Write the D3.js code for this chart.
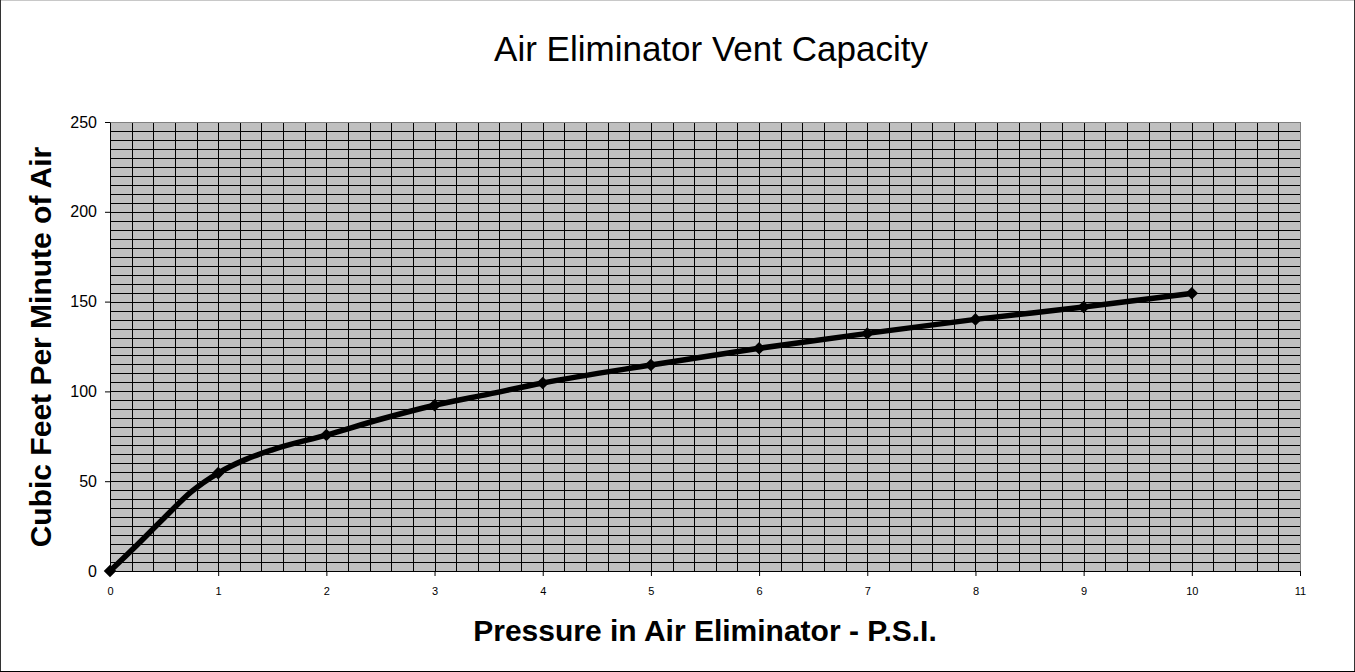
<!DOCTYPE html>
<html>
<head>
<meta charset="utf-8">
<script src="https://cdn.jsdelivr.net/npm/d3@7"></script>
<style>
  html, body { margin: 0; padding: 0; background: #fff; }
  svg { display: block; font-family: "Liberation Sans", Arial, sans-serif; }
</style>
</head>
<body>
<svg id="chart" width="1355" height="672"></svg>
<script>
// ---- data ----
const pressurePsi = [0, 0.25, 0.5, 0.75, 1, 1.25, 1.5, 2, 2.5, 3, 3.5, 4, 5, 6, 7, 8, 9, 10];
const cfmAir      = [0, 14.5, 29.5, 44, 54.5, 62, 67.5, 75.7, 84.5, 92.3, 98.5, 104.7, 114.7, 124, 132.3, 140.1, 147, 154.6];
const markerPsi   = [0, 1, 2, 3, 4, 5, 6, 7, 8, 9, 10];
const markerCfm   = [0, 54.5, 75.7, 92.3, 104.7, 114.7, 124, 132.3, 140.1, 147, 154.6];
const xTicks = [0, 1, 2, 3, 4, 5, 6, 7, 8, 9, 10, 11];
const yTicks = [0, 50, 100, 150, 200, 250];
const titleText = "Air Eliminator Vent Capacity";
const xTitle = "Pressure in Air Eliminator - P.S.I.";
const yTitle = "Cubic Feet Per Minute of Air";

const W = 1355, H = 672;
const plot = { left: 110, right: 1300, top: 122, bottom: 571 };

const svg = d3.select("#chart");

// outer frame
svg.append("line").attr("x1", 0).attr("x2", W).attr("y1", 0.5).attr("y2", 0.5).attr("stroke", "#c8c8c8");
svg.append("line").attr("x1", 0.5).attr("x2", 0.5).attr("y1", 0).attr("y2", H).attr("stroke", "#333");
svg.append("line").attr("x1", W - 0.5).attr("x2", W - 0.5).attr("y1", 0).attr("y2", H).attr("stroke", "#333");
svg.append("line").attr("x1", 0).attr("x2", W).attr("y1", H - 0.5).attr("y2", H - 0.5).attr("stroke", "#000");

const x = d3.scaleLinear().domain([0, 11]).range([plot.left, plot.right]);
const y = d3.scaleLinear().domain([0, 250]).range([plot.bottom, plot.top]);

// plot background
svg.append("rect")
  .attr("x", plot.left).attr("y", plot.top)
  .attr("width", plot.right - plot.left).attr("height", plot.bottom - plot.top)
  .attr("fill", "#c0c0c0");

// grid
const g = svg.append("g").attr("shape-rendering", "crispEdges");
const vGrid = d3.range(1, 55).map(i => i * 0.2);
const hGrid = d3.range(1, 50).map(i => i * 5);
g.selectAll("line.v").data(vGrid).join("line")
  .attr("x1", d => Math.round(x(d)) + 0.5).attr("x2", d => Math.round(x(d)) + 0.5)
  .attr("y1", plot.top).attr("y2", plot.bottom)
  .attr("stroke", "#000").attr("stroke-width", 1);
g.selectAll("line.h").data(hGrid).join("line")
  .attr("y1", d => Math.round(y(d)) + 0.5).attr("y2", d => Math.round(y(d)) + 0.5)
  .attr("x1", plot.left).attr("x2", plot.right)
  .attr("stroke", "#000").attr("stroke-width", 1);

// plot border (top/right gray)
g.append("line").attr("x1", plot.left).attr("x2", plot.right).attr("y1", plot.top + 0.5).attr("y2", plot.top + 0.5).attr("stroke", "#808080");
g.append("line").attr("x1", plot.right + 0.5).attr("x2", plot.right + 0.5).attr("y1", plot.top).attr("y2", plot.bottom).attr("stroke", "#808080");

// axes
const xAxis = d3.axisBottom(x).tickValues(xTicks).tickSize(5).tickPadding(11).tickSizeOuter(0);
const yAxis = d3.axisLeft(y).tickValues(yTicks).tickSize(5).tickPadding(8).tickSizeOuter(0);

const gx = svg.append("g").attr("transform", `translate(0,${plot.bottom})`).call(xAxis);
gx.select(".domain").attr("stroke", "#000");
gx.selectAll(".tick line").attr("stroke", "#000");
gx.selectAll(".tick text").attr("font-size", "11px").attr("fill", "#000")
  .attr("font-family", "Liberation Sans, Arial, sans-serif");

const gy = svg.append("g").attr("transform", `translate(${plot.left},0)`).call(yAxis);
gy.select(".domain").attr("stroke", "#000");
gy.selectAll(".tick line").attr("stroke", "#000");
gy.selectAll(".tick text").attr("font-size", "16px").attr("fill", "#000")
  .attr("font-family", "Liberation Sans, Arial, sans-serif");

// line
const pts = pressurePsi.map((p, i) => [p, cfmAir[i]]);
const line = d3.line().x(d => x(d[0])).y(d => y(d[1])).curve(d3.curveMonotoneX);
svg.append("path").datum(pts)
  .attr("d", line)
  .attr("fill", "none").attr("stroke", "#000").attr("stroke-width", 5.5)
  .attr("stroke-linejoin", "round").attr("stroke-linecap", "round");

// markers
const diamond = d3.symbol().type(d3.symbolDiamond2).size(100);
svg.selectAll("path.mk").data(markerPsi.map((p, i) => [p, markerCfm[i]])).join("path")
  .attr("class", "mk")
  .attr("transform", d => `translate(${x(d[0])},${y(d[1])})`)
  .attr("d", diamond)
  .attr("fill", "#000");

// titles
svg.append("text").attr("x", 711).attr("y", 61).attr("text-anchor", "middle")
  .attr("font-size", "35px").attr("fill", "#000").text(titleText);
svg.append("text").attr("x", 705).attr("y", 641).attr("text-anchor", "middle")
  .attr("font-size", "30px").attr("font-weight", "bold").attr("fill", "#000").text(xTitle);
svg.append("text").attr("transform", "translate(51,347) rotate(-90)").attr("text-anchor", "middle")
  .attr("font-size", "30px").attr("font-weight", "bold").attr("fill", "#000").text(yTitle);
</script>
</body>
</html>
